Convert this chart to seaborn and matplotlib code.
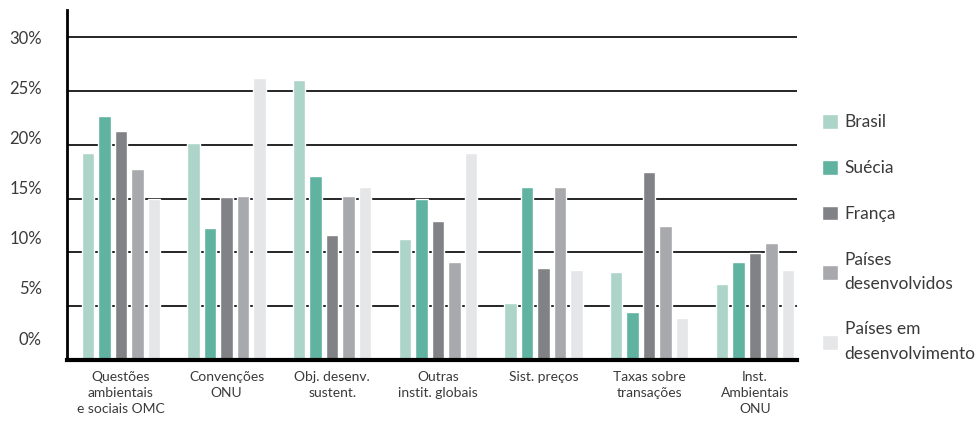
import pandas as pd
import matplotlib
matplotlib.use("Agg")
import matplotlib.pyplot as plt
import seaborn as sns

categorias = [
    "Questões\nambientais\ne sociais OMC",
    "Convenções\nONU",
    "Obj. desenv.\nsustent.",
    "Outras\ninstit. globais",
    "Sist. preços",
    "Taxas sobre\ntransações",
    "Inst.\nAmbientais\nONU",
]
grupos = ["Brasil", "Suécia", "França", "Países\ndesenvolvidos", "Países em\ndesenvolvimento"]

brasil = [19.2, 20.2, 26.0, 11.2, 5.3, 8.2, 7.1]
suecia = [22.7, 12.3, 17.1, 15.0, 16.1, 4.5, 9.1]
franca = [21.3, 15.1, 11.6, 12.9, 8.5, 17.5, 9.9]
desenvolvidos = [17.7, 15.2, 15.2, 9.1, 16.1, 12.4, 10.9]
em_desenvolvimento = [15.0, 26.2, 16.1, 19.2, 8.4, 3.9, 8.4]

yticks = [0, 5, 10, 15, 20, 25, 30]
cores = ["#acd4c8", "#5fb3a0", "#818286", "#a8a9ad", "#e5e6e8"]

series = [brasil, suecia, franca, desenvolvidos, em_desenvolvimento]
df = pd.DataFrame({
    "categoria": [c for s in series for c in categorias],
    "grupo": [g for g, s in zip(grupos, series) for _ in s],
    "valor": [v for s in series for v in s],
})

sns.set_style("white")
plt.rcParams["font.family"] = ["Lato", "DejaVu Sans"]
plt.rcParams["text.color"] = "#3a3a3a"

fig = plt.figure(figsize=(9.78, 4.22), dpi=100)
ax = fig.add_axes([0.0685, 0.147, 0.7465, 0.829])

sns.barplot(
    ax=ax,
    data=df,
    x="categoria",
    y="valor",
    hue="grupo",
    palette=dict(zip(grupos, cores)),
    width=0.78,
    gap=0.24,
    saturation=1,
    errorbar=None,
)

ax.set_axisbelow(True)
ax.set_ylim(0, 32.5)
ax.set_xlim(-0.51, 6.40)
ax.set_yticks(yticks)
ax.set_yticklabels([])
ax.yaxis.grid(True, color="black", linewidth=1.2)
ax.xaxis.grid(False)
ax.set_xlabel("")
ax.set_ylabel("")
ax.tick_params(axis="y", length=0)
ax.tick_params(axis="x", length=0, pad=8)
for lbl in ax.get_xticklabels():
    lbl.set_fontsize(10)
    lbl.set_color("#3a3a3a")
    lbl.set_linespacing(1.4)
    lbl.set_horizontalalignment("center")

# the labels in the original sit on a slightly compressed scale
sec = ax.secondary_yaxis(
    "left",
    functions=(lambda d: (d - 2.04) / 0.931, lambda v: v * 0.931 + 2.04),
)
sec.set_yticks(yticks)
sec.set_yticklabels([f"{t}%" for t in yticks], fontsize=12, color="#3a3a3a")
sec.tick_params(axis="y", length=0, pad=18)
sec.spines["left"].set_visible(False)

for side in ["top", "right"]:
    ax.spines[side].set_visible(False)
ax.spines["left"].set_linewidth(2)
ax.spines["left"].set_color("black")
ax.spines["bottom"].set_linewidth(3)
ax.spines["bottom"].set_color("black")

handles, labels = ax.get_legend_handles_labels()
ax.get_legend().remove()
leg = fig.legend(
    handles, labels,
    loc="center left",
    bbox_to_anchor=(0.841, 0.436),
    bbox_transform=fig.transFigure,
    frameon=False,
    fontsize=12.5,
    handlelength=0.92,
    handleheight=0.92,
    handletextpad=0.35,
    labelspacing=1.7,
    borderpad=0,
    borderaxespad=0,
)
for t in leg.get_texts():
    t.set_linespacing(1.65)

fig.savefig("out.png", dpi=100)
